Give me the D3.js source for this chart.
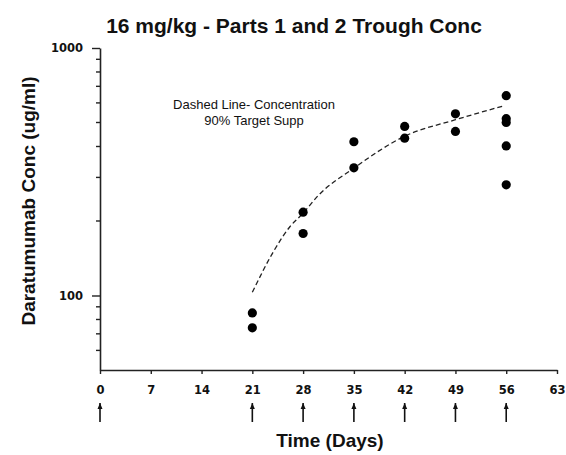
<!DOCTYPE html>
<html>
<head>
<meta charset="utf-8">
<script src="https://cdn.jsdelivr.net/npm/d3@7"></script>
<style>
  body { margin: 0; background: #fff; }
  text { font-family: "Liberation Sans", Arial, sans-serif; }
</style>
</head>
<body>
<svg id="chart"></svg>
<script>
var margin = { top: 48, right: 9, bottom: 85, left: 100 };
var svgWidth = 566;
var svgHeight = 455;

// observed trough concentrations (ug/ml) by day
var obsDays = [21, 21, 28, 28, 35, 35, 42, 42, 49, 49, 56, 56, 56, 56, 56];
var obsConc = [85, 74, 217, 178, 418, 328, 482, 432, 542, 460, 642, 518, 500, 402, 280];

// dashed line - concentration for 90% target suppression
var lineDays = [21, 24, 26.2, 28, 30, 35, 42, 49, 55.6];
var lineConc = [103, 152, 190, 215, 252, 327, 440, 513, 583];

// dosing days (arrows)
var doseDays = [0, 21, 28, 35, 42, 49, 56];

var xTicks = [0, 7, 14, 21, 28, 35, 42, 49, 56, 63];
var yMajor = [100, 1000];
var yMinor = [60, 70, 80, 90, 200, 300, 400, 500, 600, 700, 800, 900];

drawChart();

function drawChart() {
  var innerHeight = svgHeight - margin.top - margin.bottom;

  var svg = d3.select("#chart")
  .attr("width", svgWidth)
  .attr("height", svgHeight);

  var xScale = d3.scaleLinear()
  .domain([0, 63])
  .range([margin.left, svgWidth - margin.right]);

  var yScale = d3.scaleLog()
  .domain([50, 1000])
  .range([margin.top + innerHeight, margin.top]);

  var axisColor = "#222";

  // x axis
  var xAxis = d3.axisBottom(xScale)
  .tickValues(xTicks)
  .tickSize(4)
  .tickSizeOuter(0)
  .tickFormat(d3.format("d"));

  var gx = svg.append("g")
  .attr("transform", `translate(0, ${margin.top + innerHeight})`)
  .call(xAxis);
  gx.select(".domain").attr("stroke", axisColor).attr("stroke-width", 1.6);
  gx.selectAll(".tick line").attr("stroke", axisColor).attr("stroke-width", 1.4);
  gx.selectAll("text")
  .attr("y", 16)
  .style("font-family", "'DejaVu Sans', Verdana, sans-serif")
  .style("font-size", "11.5px")
  .style("font-weight", "bold")
  .style("fill", "#111");

  // y axis
  var yAxis = d3.axisLeft(yScale)
  .tickValues(yMajor)
  .tickSize(8)
  .tickSizeOuter(0)
  .tickFormat(d3.format("d"));

  var gy = svg.append("g")
  .attr("transform", `translate(${margin.left}, 0)`)
  .call(yAxis);
  gy.select(".domain").attr("stroke", axisColor).attr("stroke-width", 1.6);
  gy.selectAll(".tick line").attr("stroke", axisColor).attr("stroke-width", 1.4);
  gy.selectAll("text")
  .attr("x", -17)
  .style("font-family", "'DejaVu Sans', Verdana, sans-serif")
  .style("font-size", "11.5px")
  .style("font-weight", "bold")
  .style("fill", "#111");

  gy.selectAll(".minor")
  .data(yMinor)
  .enter().append("line")
  .attr("class", "minor")
  .attr("x1", -4)
  .attr("x2", 0)
  .attr("y1", d => yScale(d))
  .attr("y2", d => yScale(d))
  .attr("stroke", axisColor)
  .attr("stroke-width", 1.4);

  // dashed line
  var line = d3.line()
  .x((d, i) => xScale(lineDays[i]))
  .y(d => yScale(d))
  .curve(d3.curveMonotoneX);

  svg.append("path")
  .datum(lineConc)
  .attr("d", line)
  .attr("fill", "none")
  .attr("stroke", "#222")
  .attr("stroke-width", 1.3)
  .attr("stroke-dasharray", "5,3");

  // observed points
  svg.selectAll(".pt")
  .data(obsConc)
  .enter().append("circle")
  .attr("class", "pt")
  .attr("cx", (d, i) => xScale(obsDays[i]))
  .attr("cy", d => yScale(d))
  .attr("r", 4.6)
  .attr("fill", "#000");

  // dose arrows
  var arrows = svg.selectAll(".arrow")
  .data(doseDays)
  .enter().append("g")
  .attr("class", "arrow")
  .attr("transform", d => `translate(${xScale(d)}, 403)`);

  arrows.append("line")
  .attr("x1", 0).attr("x2", 0)
  .attr("y1", 0).attr("y2", 19)
  .attr("stroke", "#111")
  .attr("stroke-width", 1.6);

  arrows.append("path")
  .attr("d", "M-2.5,6 L0,0 L2.5,6 Z")
  .attr("fill", "#111");

  // annotation
  svg.append("text")
  .attr("x", 254)
  .attr("y", 109)
  .style("text-anchor", "middle")
  .style("font-size", "13px")
  .style("fill", "#111")
  .text("Dashed Line- Concentration");

  svg.append("text")
  .attr("x", 254)
  .attr("y", 125)
  .style("text-anchor", "middle")
  .style("font-size", "13px")
  .style("fill", "#111")
  .text("90% Target Supp");

  // title and axis labels
  svg.append("text")
  .attr("x", 294)
  .attr("y", 33)
  .style("text-anchor", "middle")
  .style("font-size", "21px")
  .style("font-weight", "bold")
  .style("fill", "#111")
  .text("16 mg/kg - Parts 1 and 2 Trough Conc");

  svg.append("text")
  .attr("transform", "translate(35, 201) rotate(-90)")
  .style("text-anchor", "middle")
  .style("font-size", "19px")
  .style("font-weight", "bold")
  .style("fill", "#111")
  .text("Daratumumab Conc (ug/ml)");

  svg.append("text")
  .attr("x", 330)
  .attr("y", 447)
  .style("text-anchor", "middle")
  .style("font-size", "19px")
  .style("font-weight", "bold")
  .style("fill", "#111")
  .text("Time (Days)");
}
</script>
</body>
</html>
